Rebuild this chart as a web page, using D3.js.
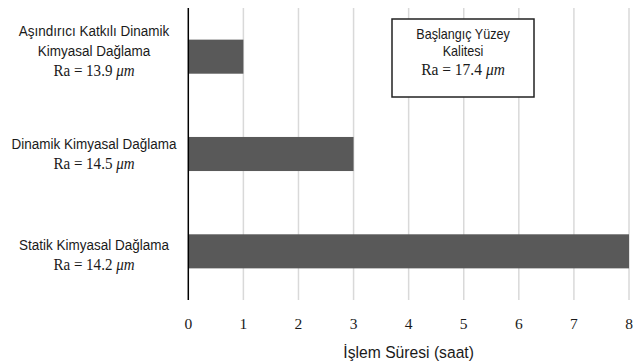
<!DOCTYPE html>
<html><head><meta charset="utf-8">
<script src="https://cdn.jsdelivr.net/npm/d3@7"></script>
<style>body{margin:0;background:#fff}</style>
</head><body>
<svg id="c" width="641" height="364"></svg>
<script>
const categories = [
  ["Aşındırıcı Katkılı Dinamik", "Kimyasal Dağlama"],
  ["Dinamik Kimyasal Dağlama"],
  ["Statik Kimyasal Dağlama"]
];
const raValues = ["13.9", "14.5", "14.2"];
const hours = [1, 3, 8];
const xTicks = [0, 1, 2, 3, 4, 5, 6, 7, 8];
const xTitle = "İşlem Süresi (saat)";
const boxLines = ["Başlangıç Yüzey", "Kalitesi"];
const boxRa = "17.4";

(function () {
const svg = d3.select("#c");
const pL = 188.3, pR = 629, pT = 8, pB = 300;
const x = d3.scaleLinear().domain([0, 8]).range([pL, pR]);
const y = d3.scaleBand().domain(d3.range(categories.length)).range([pT, pB]).paddingInner(0.65).paddingOuter(0.325);

function txt(xp, yp, size, family, sx) {
  return svg.append("text").attr("transform", `translate(${xp},${yp}) scale(${sx},1)`)
    .attr("text-anchor", "middle").attr("font-family", family).attr("font-size", size).attr("fill", "#1a1a1a");
}

// gridlines
svg.append("g").selectAll("line").data(xTicks.filter(d => d > 0)).join("line")
  .attr("x1", d => x(d)).attr("x2", d => x(d)).attr("y1", pT).attr("y2", pB)
  .attr("stroke", "#d9d9d9").attr("stroke-width", 1.5);

// bars
svg.append("g").selectAll("rect").data(hours).join("rect")
  .attr("x", x(0)).attr("y", (d, i) => y(i)).attr("width", d => x(d) - x(0)).attr("height", y.bandwidth())
  .attr("fill", "#595959");

// axis line
svg.append("line").attr("x1", x(0)).attr("x2", x(0)).attr("y1", pT).attr("y2", pB)
  .attr("stroke", "#000").attr("stroke-width", 1.5);

// tick labels
xTicks.forEach(d => txt(x(d), 328.5, 15.5, "Liberation Serif", 1).text(d));

txt((pL + pR) / 2, 357.5, 16.5, "Liberation Sans", 0.95).text(xTitle);

// category labels
const labX = 94;
const labelShift = [-0.7, 5, 8.5];
categories.forEach((lines, i) => {
  const c = y(i) + y.bandwidth() / 2;
  const n = lines.length + 1;
  const lh = 20;
  const start = c - (n - 1) * lh / 2 + labelShift[i];
  lines.forEach((t, j) => {
    txt(labX, start + j * lh, 14.5, "Liberation Sans", 0.93).text(t);
  });
  const ra = txt(labX, start + lines.length * lh, 16, "Liberation Serif", 0.94);
  ra.append("tspan").text("Ra = " + raValues[i] + " ");
  ra.append("tspan").attr("font-style", "italic").text("μm");
});

// box
const bx = 392, by = 19, bw = 142, bh = 78;
svg.append("rect").attr("x", bx).attr("y", by).attr("width", bw).attr("height", bh)
  .attr("fill", "#fff").attr("stroke", "#222").attr("stroke-width", 1.5);
boxLines.forEach((t, j) => {
  txt(bx + bw / 2, 38.5 + j * 17.3, 14, "Liberation Sans", 0.9).text(t);
});
const bra = txt(bx + bw / 2, 75, 16, "Liberation Serif", 0.97);
bra.append("tspan").text("Ra = " + boxRa + " ");
bra.append("tspan").attr("font-style", "italic").text("μm");
})();
</script>
</body></html>
